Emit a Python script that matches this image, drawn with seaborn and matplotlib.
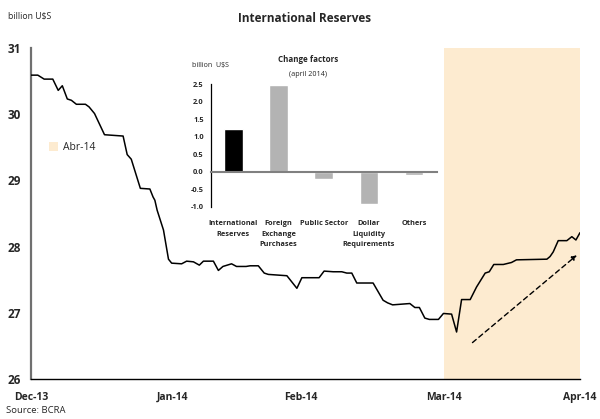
import matplotlib
matplotlib.use("Agg")
import matplotlib.pyplot as plt
import seaborn as sns
import pandas as pd
from matplotlib.patches import Patch

# ---- data: main series (day offset from Dec-13 tick, billion US$) ----
days = [0, 1.5, 2.9, 4.8, 6.0, 6.9, 8.0, 8.9, 10.0, 12.0, 12.8, 14.0, 16.2, 20.3,
        21.2, 22.1, 24.1, 26.2, 26.9, 27.3, 27.8, 29.2, 30.3, 31.0, 33.2, 34.3,
        35.8, 37.1, 38.0, 40.2, 41.3, 42.3, 44.2, 45.3, 47.4, 48.3, 50.1, 51.4,
        52.3, 56.4, 58.6, 59.7, 63.5, 64.6, 66.6, 68.5, 69.6, 70.7, 71.8, 75.4,
        77.6, 78.6, 79.7, 83.5, 84.6, 85.6, 86.8, 87.8, 89.8, 90.9, 92.7, 93.8,
        94.9, 96.8, 98.2, 100.1, 101.0, 102.0, 104.1, 105.9, 107.0, 113.7, 114.4,
        115.1, 116.2, 118.1, 119.2, 120.1, 121.0]
reserves = [30.59, 30.59, 30.53, 30.53, 30.36, 30.43, 30.23, 30.21, 30.15, 30.15,
            30.11, 30.01, 29.69, 29.67, 29.39, 29.32, 28.88, 28.87, 28.75, 28.70,
            28.55, 28.25, 27.81, 27.75, 27.74, 27.78, 27.77, 27.72, 27.78, 27.78,
            27.64, 27.70, 27.74, 27.70, 27.70, 27.71, 27.71, 27.60, 27.58, 27.56,
            27.37, 27.53, 27.53, 27.63, 27.62, 27.62, 27.60, 27.60, 27.45, 27.45,
            27.19, 27.15, 27.12, 27.14, 27.08, 27.08, 26.92, 26.90, 26.90, 26.99,
            26.98, 26.71, 27.20, 27.20, 27.39, 27.60, 27.62, 27.73, 27.73, 27.76,
            27.80, 27.81, 27.85, 27.92, 28.09, 28.09, 28.15, 28.10, 28.21]
month_ticks = [0, 31.3, 59.5, 91.0, 121.0]
month_labels = ["Dec-13", "Jan-14", "Feb-14", "Mar-14", "Apr-14"]
y_ticks = [26, 27, 28, 29, 30, 31]
shade_start, shade_end = 91.0, 121.0
shade_label = "Abr-14"
arrow_start = (97.3, 26.55)
arrow_end = (120.3, 27.87)

# ---- data: inset (change factors, april 2014) ----
factors = ["International\nReserves", "Foreign\nExchange\nPurchases", "Public Sector",
           "Dollar\nLiquidity\nRequirements", "Others"]
changes = [1.22, 2.47, -0.22, -0.93, -0.10]
inset_ticks = [-1.0, -0.5, 0.0, 0.5, 1.0, 1.5, 2.0, 2.5]

sns.set_theme(style="white")
plt.rcParams["font.family"] = ["Open Sans", "DejaVu Sans"]

SHADE = "#FDEBD0"
GRAY = "#B3B3B3"

fig = plt.figure(figsize=(6.0, 4.19), dpi=100)
ax = fig.add_axes([31/600, 40/419, 549/600, 331/419])

ax.axvspan(shade_start, shade_end, color=SHADE, lw=0, zorder=0)
df = pd.DataFrame({"day": days, "value": reserves})
sns.lineplot(data=df, x="day", y="value", color="black", lw=1.1, ax=ax, zorder=3)
ax.annotate("", xy=arrow_end, xytext=arrow_start,
            arrowprops=dict(arrowstyle="-|>", color="black", lw=1.0,
                            linestyle=(0, (3.5, 2.5)), mutation_scale=7,
                            shrinkA=0, shrinkB=0), zorder=4)

ax.set_xlim(0, 121)
ax.set_ylim(26, 31)
ax.set_xticks(month_ticks)
ax.set_xticklabels(month_labels, fontweight="bold", fontsize=7.5)
ax.set_yticks(y_ticks)
ax.set_yticklabels([str(v) for v in y_ticks], fontweight="bold", fontsize=8.5)
ax.set_xlabel("")
ax.set_ylabel("")
for s in ["top", "right"]:
    ax.spines[s].set_visible(False)
ax.spines["left"].set_color("#707070")
ax.spines["left"].set_linewidth(1.6)
ax.spines["bottom"].set_color("black")
ax.spines["bottom"].set_linewidth(1.0)
ax.tick_params(axis="x", direction="in", length=5, width=1, color="black", pad=9)
ax.tick_params(axis="y", direction="out", length=3, width=1, color="#707070", pad=4)
ax.grid(False)

leg = ax.legend(handles=[Patch(facecolor=SHADE, edgecolor="none", label=shade_label)],
                loc="center left", bbox_to_anchor=(0.015, 0.70), frameon=False,
                handlelength=0.9, handleheight=0.9, handletextpad=0.5, fontsize=7.5)

# ---- inset ----
ins = fig.add_axes([210.7/600, (419-206.7)/419, 226/600, 122.4/419])
ins.patch.set_alpha(0)
idf = pd.DataFrame({"factor": factors, "change": changes})
sns.barplot(data=idf, x="factor", y="change", hue="factor",
            palette=["black", GRAY, GRAY, GRAY, GRAY], width=0.41,
            legend=False, ax=ins, saturation=1)
ins.set_xlim(-0.5, 4.5)
ins.set_ylim(-1.0, 2.5)
ins.set_yticks(inset_ticks)
ins.set_yticklabels([f"{v:.1f}" for v in inset_ticks], fontweight="bold", fontsize=5.3)
ins.set_xlabel("")
ins.set_ylabel("")
for s in ["top", "right"]:
    ins.spines[s].set_visible(False)
ins.spines["bottom"].set_position(("data", 0))
ins.spines["bottom"].set_color("#808080")
ins.spines["bottom"].set_linewidth(1.5)
ins.spines["left"].set_color("black")
ins.spines["left"].set_linewidth(0.9)
ins.set_xticks([0, 1, 2, 3, 4])
ins.set_xticklabels(factors, fontweight="bold", fontsize=5.3, linespacing=1.7)
ins.tick_params(axis="x", length=0, pad=35)
ins.set_xticks([0.5, 1.5, 2.5, 3.5, 4.5], minor=True)
ins.tick_params(axis="x", which="minor", direction="in", length=4, width=1, color="black")
ins.tick_params(axis="y", direction="in", length=3, width=0.9, color="black", pad=5)
ins.grid(False)

fig.text(305/600, 1 - 18/419, "International Reserves", ha="center",
         va="center", fontweight="bold", fontsize=8.5)
fig.text(8/600, 1 - 16/419, "billion U$S", ha="left", va="center", fontsize=6.3)
fig.text(6/600, 1 - 410/419, "Source: BCRA", ha="left", va="center", fontsize=6.8)
fig.text(192/600, 1 - 66/419, "billion  U$S", ha="left", va="center", fontsize=5)
fig.text(308/600, 1 - 60/419, "Change factors", ha="center", va="center",
         fontsize=5.8, fontweight="bold")
fig.text(308/600, 1 - 74/419, "(april 2014)", ha="center", va="center", fontsize=5.2)

fig.savefig("out.png", dpi=100)
